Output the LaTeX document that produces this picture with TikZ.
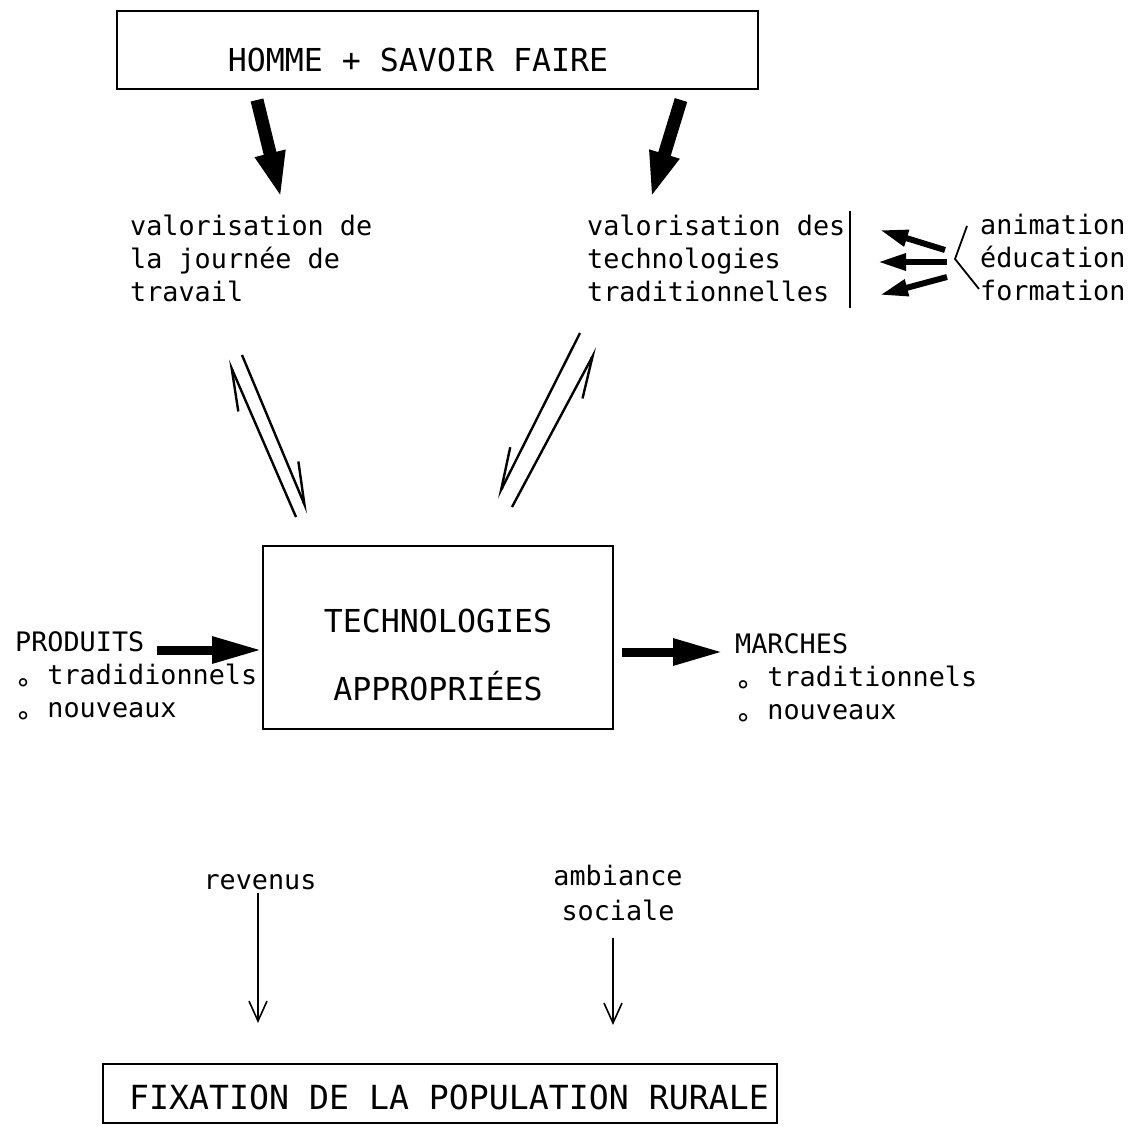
\documentclass[tikz,border=0pt]{standalone}
\usepackage{fontspec}
\setmonofont{DejaVu Sans Mono}
\usetikzlibrary{arrows.meta}
% small ring used as list marker
\newcommand\listdot{\raisebox{-0.5em}{°}}
\begin{document}
\begin{tikzpicture}[x=1pt,y=-1pt,
  txt/.style={inner sep=0pt, font=\ttfamily\fontsize{26.8}{33}\selectfont, align=left},
  big/.style={inner sep=0pt, font=\ttfamily\fontsize{31.6}{68}\selectfont, align=center},
  frame/.style={draw, line width=2pt, inner sep=0pt},
  bigarrow/.style={line width=13pt, -{Triangle[length=46pt,width=28pt]}},
  sidearrow/.style={line width=9pt, -{Triangle[length=50pt,width=25pt]}},
  minorarrow/.style={line width=6pt, -{Triangle[length=28pt,width=16pt]}},
  feedback/.style={line width=2.4pt, -{Straight Barb[harpoon,length=42pt,width=22pt]}},
  feedbackswap/.style={line width=2.4pt, -{Straight Barb[harpoon,swap,length=42pt,width=22pt]}},
  downarrow/.style={line width=1.6pt, -{Straight Barb[length=20pt,width=18pt]}}
]
\useasboundingbox (0,0) rectangle (1130,1127);

% frames
\node[frame, line width=2.4pt, minimum width=641pt, minimum height=78pt] (hommebox) at (437.5,50) {};
\node[frame, minimum width=350pt, minimum height=183pt] (techbox) at (438,637.5) {};
\node[frame, minimum width=674pt, minimum height=59pt] (fixbox) at (440,1093.5) {};

% texts
\node[big] (homme) at (418,60) {HOMME + SAVOIR FAIRE};
\node[big] (techtext) at (438,654.5) {TECHNOLOGIES\\APPROPRIÉES};
\node[inner sep=0pt, font=\ttfamily\fontsize{33.2}{40}\selectfont] (fix) at (449,1097) {FIXATION DE LA POPULATION RURALE};
\node[txt, anchor=west] (valL) at (130,258) {valorisation de\\la journée de\\travail};
\node[txt, anchor=west] (valR) at (587,258) {valorisation des\\technologies\\traditionnelles};
\node[txt, anchor=west] (edu) at (980,258) {animation\\éducation\\formation};
\node[txt, anchor=west] (prod) at (15,681.5) {PRODUITS\\\listdot{} tradidionnels\\\listdot{} nouveaux};
\node[txt, anchor=west] (march) at (735,683.5) {MARCHES\\\listdot{} traditionnels\\\listdot{} nouveaux};
\node[txt] (rev) at (260,882) {revenus};
\node[txt, align=center, font=\ttfamily\fontsize{26.8}{35}\selectfont] (amb) at (618,892.6) {ambiance\\sociale};

% arrow end points
\coordinate (a1s) at (257,100);  \coordinate (a1e) at (281,198);
\coordinate (a2s) at (681,100);  \coordinate (a2e) at (651,198);
\coordinate (f1a) at (296,517);  \coordinate (f1b) at (228,360);
\coordinate (f1c) at (242,355);  \coordinate (f1d) at (308,513);
\coordinate (f2a) at (580,333);  \coordinate (f2b) at (497,498);
\coordinate (f2c) at (512,507);  \coordinate (f2d) at (597,348);
\coordinate (p1) at (157,650);
\coordinate (m1) at (622,652);   \coordinate (m2) at (723,652);
\coordinate (e1s) at (945,250);  \coordinate (e1e) at (880,230);
\coordinate (e2s) at (947,262);  \coordinate (e2e) at (878,262);
\coordinate (e3s) at (947,277);  \coordinate (e3e) at (880,295);
\coordinate (bar1) at (850,211); \coordinate (bar2) at (850,308);
\coordinate (br1) at (967,226);  \coordinate (br2) at (955,259);  \coordinate (br3) at (979,289);
\coordinate (d1s) at (258,893);  \coordinate (d1e) at (258,1023);
\coordinate (d2s) at (613,938);  \coordinate (d2e) at (613,1025);

% heavy arrows from the top frame
\draw[bigarrow] (a1s) -- (a1e);
\draw[bigarrow] (a2s) -- (a2e);

% two-way links with the central frame
\draw[feedback] (f1a) -- (f1b);
\draw[feedback] (f1c) -- (f1d);
\draw[feedbackswap] (f2a) -- (f2b);
\draw[feedbackswap] (f2c) -- (f2d);

% inputs and outputs of the central frame
\draw[sidearrow] (p1) -- (techbox.west |- p1);
\draw[sidearrow] (m1) -- (m2);

% support actions
\draw[line width=2pt] (bar1) -- (bar2);
\draw[minorarrow] (e1s) -- (e1e);
\draw[minorarrow] (e2s) -- (e2e);
\draw[minorarrow] (e3s) -- (e3e);
\draw[line width=1.8pt] (br1) -- (br2) -- (br3);

% effects
\draw[downarrow] (d1s) -- (d1e);
\draw[downarrow] (d2s) -- (d2e);
\end{tikzpicture}
\end{document}
